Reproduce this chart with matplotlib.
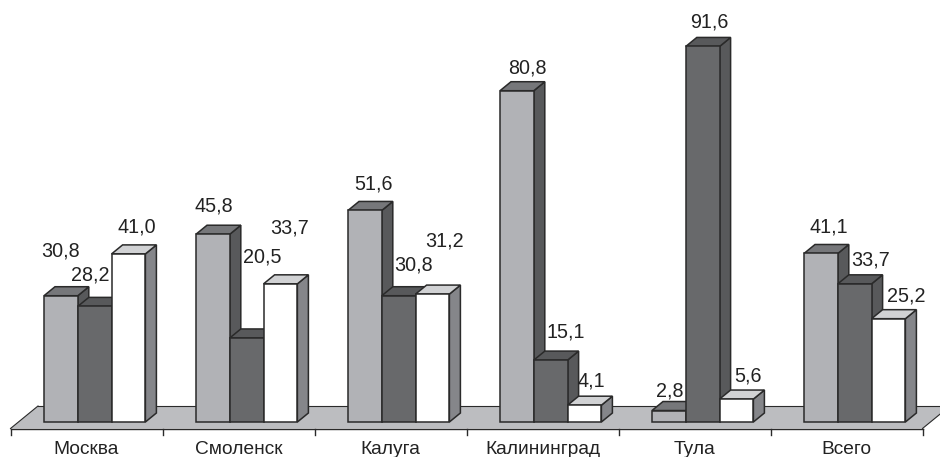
import matplotlib
matplotlib.use("Agg")
import matplotlib.pyplot as plt
from matplotlib.patches import Polygon

plt.rcParams['font.family'] = ['Liberation Sans', 'DejaVu Sans']

cities = ["Москва", "Смоленск", "Калуга", "Калининград", "Тула", "Всего"]
series_a = [30.8, 45.8, 51.6, 80.8, 2.8, 41.1]
series_b = [28.2, 20.5, 30.8, 15.1, 91.6, 33.7]
series_c = [41.0, 33.7, 31.2, 4.1, 5.6, 25.2]

# label offsets from each bar's top centre, in pixels (x, y up)
offsets_a = [(0, 44.7), (1, 28), (9, 26), (10, 23), (1, 19.5), (8, 26.5)]
offsets_b = [(-4, 31.4), (16, 81), (15, 31), (15, 28), (7, 24.4), (16, 24)]
offsets_c = [(8, 26.9), (9, 56), (12, 53), (7, 24), (11, 23), (18, 23)]

W, H = 940, 457
LEFT, CAT_W = 10.5, 152.0
BASE_Y, PX_PER_UNIT = 422.0, 4.1
BAR_W_PX, BAR_OFF_PX = 33.8, 33.5
DEPTH_X_PX, DEPTH_Y_PX = 11.0, 9.0

fig = plt.figure(figsize=(W / 100, H / 100), dpi=100, facecolor="white")
ax = fig.add_axes([0, 0, 1, 1])
ax.set_xlim(-LEFT / CAT_W, (W - LEFT) / CAT_W)
ax.set_ylim(-(H - BASE_Y) / PX_PER_UNIT, BASE_Y / PX_PER_UNIT)
ax.axis("off")

ux = 1 / CAT_W
uy = 1 / PX_PER_UNIT
dx, dy = DEPTH_X_PX * ux, DEPTH_Y_PX * uy
EDGE = "#2a2a2a"
LW = 1.1

# floor
n = len(cities)
f_front = -6.5 * uy
f_back = 16 * uy
floor_dx = 27.5 * ux
ax.add_patch(Polygon([(0, f_front), (n, f_front), (n + floor_dx, f_back), (floor_dx, f_back)],
                     closed=True, facecolor="#bcbdc0", edgecolor="none", zorder=1))
ax.plot([0, floor_dx], [f_front, f_back], color=EDGE, lw=0.8, zorder=1.5)
ax.plot([floor_dx, n + floor_dx], [f_back, f_back], color=EDGE, lw=0.8, zorder=1.5)
ax.plot([n, n + floor_dx], [f_front, f_back], color=EDGE, lw=0.8, zorder=1.5)

# axis line with ticks
ax.plot([0, n], [f_front, f_front], color=EDGE, lw=1.0, zorder=1.6)
for i in range(n + 1):
    ax.plot([i, i], [f_front, f_front - 6.5 * uy], color=EDGE, lw=1.0, zorder=1.6)
for i, name in enumerate(cities):
    ax.text(i + 0.5, -27.5 * uy, name, ha="center", va="center", fontsize=13.8, color="#222222")

styles = [
    (series_a, offsets_a, "#b1b2b6", "#76777a", "#58595b"),
    (series_b, offsets_b, "#68696b", "#58595b", "#58595b"),
    (series_c, offsets_c, "#ffffff", "#d1d2d4", "#85868a"),
]
w = BAR_W_PX * ux
z = 2.0
for i in range(n):
    for j, (vals, offs, front, top, side) in enumerate(styles):
        v = vals[i]
        x0 = i + (BAR_OFF_PX + BAR_W_PX * j) * ux
        x1 = x0 + w
        ax.add_patch(Polygon([(x1, 0), (x1 + dx, dy), (x1 + dx, v + dy), (x1, v)], closed=True,
                             facecolor=side, edgecolor=EDGE, lw=LW, zorder=z))
        ax.add_patch(Polygon([(x0, v), (x1, v), (x1 + dx, v + dy), (x0 + dx, v + dy)], closed=True,
                             facecolor=top, edgecolor=EDGE, lw=LW, zorder=z))
        ax.bar(x0, v, width=w, align="edge", color=front, edgecolor=EDGE, linewidth=LW, zorder=z + 0.1)
        z += 0.2
        ax.annotate(f"{v:.1f}".replace(".", ","), xy=(x0 + w / 2, v), xytext=offs[i],
                    textcoords="offset pixels", ha="center", va="center",
                    fontsize=14.2, color="#222222", zorder=50)

fig.savefig("out.png", dpi=100, facecolor="white")
